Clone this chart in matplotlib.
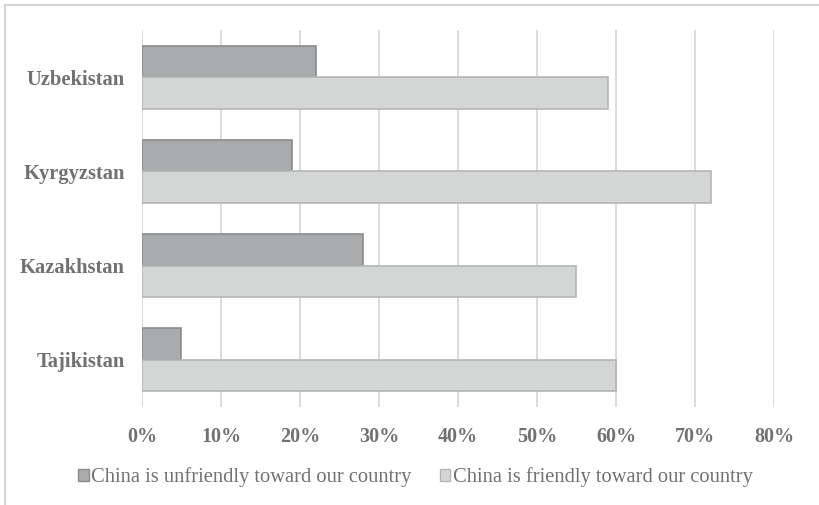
import matplotlib
matplotlib.use("Agg")
import matplotlib.pyplot as plt
from matplotlib.lines import Line2D
from matplotlib.patches import Patch
import numpy as np

countries = ["Uzbekistan", "Kyrgyzstan", "Kazakhstan", "Tajikistan"]
unfriendly = [22, 19, 28, 5]
friendly = [59, 72, 55, 60]
xticks = [0, 10, 20, 30, 40, 50, 60, 70, 80]
xticklabels = ["0%", "10%", "20%", "30%", "40%", "50%", "60%", "70%", "80%"]
legend_labels = ["China is unfriendly toward our country", "China is friendly toward our country"]

plt.rcParams['font.family'] = ['Liberation Serif', 'DejaVu Serif']

W, H = 820, 505
fig = plt.figure(figsize=(W/100, H/100), dpi=100)
ax = fig.add_axes([142/W, 1-407/H, (774-142)/W, (407-30)/H])

dark_fc, dark_ec = "#a9abac", "#8a8c8d"
light_fc, light_ec = "#d4d5d5", "#b4b5b5"
txt = "#6f7173"

n = len(countries)
y = np.arange(n)[::-1].astype(float)
h = 0.335
ax.barh(y + h/2, unfriendly, height=h, color=dark_fc, edgecolor=dark_ec, linewidth=1.2, zorder=3)
ax.barh(y - h/2, friendly, height=h, color=light_fc, edgecolor=light_ec, linewidth=1.2, zorder=3)

ax.set_xlim(0, 80)
ax.set_ylim(-0.5, n - 0.5)
ax.set_xticks(xticks)
ax.set_xticklabels(xticklabels, fontsize=14.5, fontweight='bold', color=txt)
ax.set_yticks(y)
ax.set_yticklabels(countries, fontsize=14.8, fontweight='bold', color=txt)
ax.tick_params(axis='both', length=0)
ax.tick_params(axis='x', pad=14.5)
ax.tick_params(axis='y', pad=12.5)
for s in ax.spines.values():
    s.set_visible(False)
ax.grid(axis='x', color="#d9d9d9", linewidth=1.3, zorder=0)
ax.set_axisbelow(True)

handles = [Patch(facecolor=dark_fc, edgecolor=dark_ec, linewidth=1.0),
           Patch(facecolor=light_fc, edgecolor=light_ec, linewidth=1.0)]
leg = fig.legend(handles, legend_labels, loc='center', bbox_to_anchor=(415.5/W, 1-477.5/H),
                 ncol=2, frameon=False, fontsize=14.8, handlelength=0.5, handleheight=0.5,
                 handletextpad=0.12, columnspacing=1.4, labelcolor=txt)

# partial frame (top and left)
fig.add_artist(Line2D([5/W, 5/W], [0, 1-5/H], transform=fig.transFigure, color="#d0d0d0", linewidth=1.3))
fig.add_artist(Line2D([5/W, 1], [1-5/H, 1-5/H], transform=fig.transFigure, color="#d0d0d0", linewidth=1.3))

fig.savefig("out.png", dpi=100)
